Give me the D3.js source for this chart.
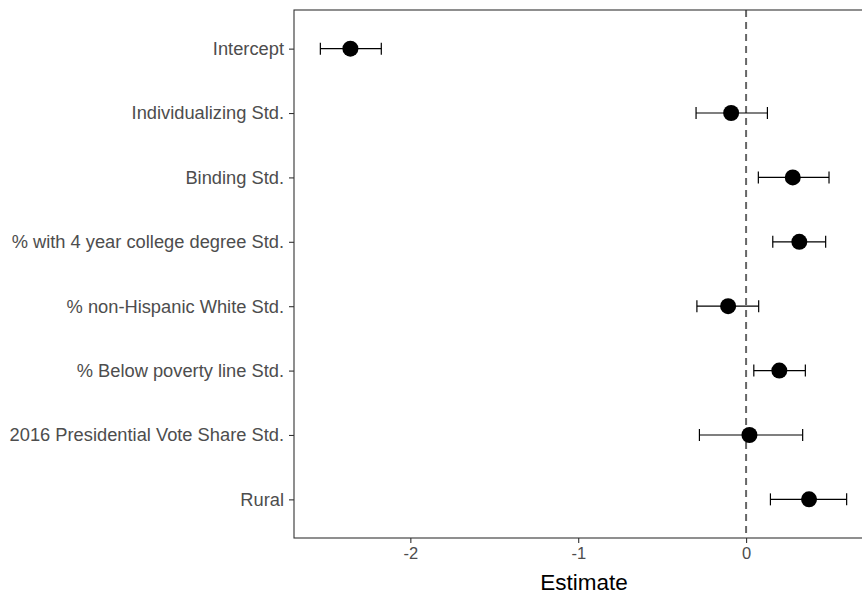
<!DOCTYPE html>
<html><head><meta charset="utf-8">
<script src="https://cdn.jsdelivr.net/npm/d3@7"></script>
<style>body{margin:0;background:#fff}svg{display:block}</style>
</head><body><svg id="c" width="862" height="595"></svg>
<script>
const terms = ["Intercept","Individualizing Std.","Binding Std.","% with 4 year college degree Std.","% non-Hispanic White Std.","% Below poverty line Std.","2016 Presidential Vote Share Std.","Rural"];
const estimates = [-2.357,-0.089,0.278,0.317,-0.107,0.198,0.020,0.375];
const lower = [-2.536,-0.298,0.073,0.159,-0.293,0.046,-0.278,0.145];
const upper = [-2.173,0.127,0.494,0.474,0.075,0.353,0.337,0.599];
const xTicks = [-2,-1,0];

const svg = d3.select("#c");
const L = 294, T = 10, B = 538, R = 873;
const font = "'Liberation Sans', Arial, Helvetica, sans-serif";
const x = d3.scaleLinear().domain([-2.693, 0.756]).range([L, R]);
const y = d3.scalePoint().domain(terms).range([T, B]).padding(0.6);

// zero reference line
svg.append("line").attr("x1", x(0)).attr("x2", x(0)).attr("y1", T).attr("y2", B)
  .attr("stroke", "#666").attr("stroke-width", 2).attr("stroke-dasharray", "7,5");

const data = terms.map((t,i)=>({t, est: estimates[i], lo: lower[i], hi: upper[i]}));
const g = svg.append("g");
g.selectAll("line.eb").data(data).join("line").attr("class","eb")
  .attr("x1", d=>x(d.lo)).attr("x2", d=>x(d.hi)).attr("y1", d=>y(d.t)).attr("y2", d=>y(d.t))
  .attr("stroke", "#000").attr("stroke-width", 1.2);
["lo","hi"].forEach(k=>{
  g.selectAll("line.cap"+k).data(data).join("line").attr("class","cap"+k)
    .attr("x1", d=>x(d[k])).attr("x2", d=>x(d[k])).attr("y1", d=>y(d.t)-6).attr("y2", d=>y(d.t)+6)
    .attr("stroke", "#000").attr("stroke-width", 1.2);
});
g.selectAll("circle").data(data).join("circle")
  .attr("cx", d=>x(d.est)).attr("cy", d=>y(d.t)).attr("r", 8).attr("fill", "#000");

// panel border
svg.append("rect").attr("x", L).attr("y", T).attr("width", R-L).attr("height", B-T)
  .attr("fill", "none").attr("stroke", "#333").attr("stroke-width", 1.1);

// x axis
const xa = svg.append("g").attr("transform", `translate(0,${B})`)
  .call(d3.axisBottom(x).tickValues(xTicks).tickSize(5).tickPadding(4).tickFormat(d3.format("d")));
xa.select(".domain").remove();
xa.selectAll(".tick line").attr("stroke", "#333").attr("stroke-width", 1.1);
xa.selectAll(".tick text").attr("fill", "#4d4d4d").attr("font-family", font).attr("font-size", 16.5)
  .text(d => d < 0 ? "-" + Math.abs(d) : d);

// y axis
const ya = svg.append("g").attr("transform", `translate(${L},0)`)
  .call(d3.axisLeft(y).tickSize(5).tickPadding(5));
ya.select(".domain").remove();
ya.selectAll(".tick line").attr("stroke", "#333").attr("stroke-width", 1.1);
ya.selectAll(".tick text").attr("fill", "#4d4d4d").attr("font-family", font).attr("font-size", 18.3);

svg.append("text").attr("x", 584).attr("y", 590).attr("text-anchor", "middle")
  .attr("font-family", font).attr("font-size", 22.5).attr("fill", "#000").text("Estimate");
</script></body></html>
